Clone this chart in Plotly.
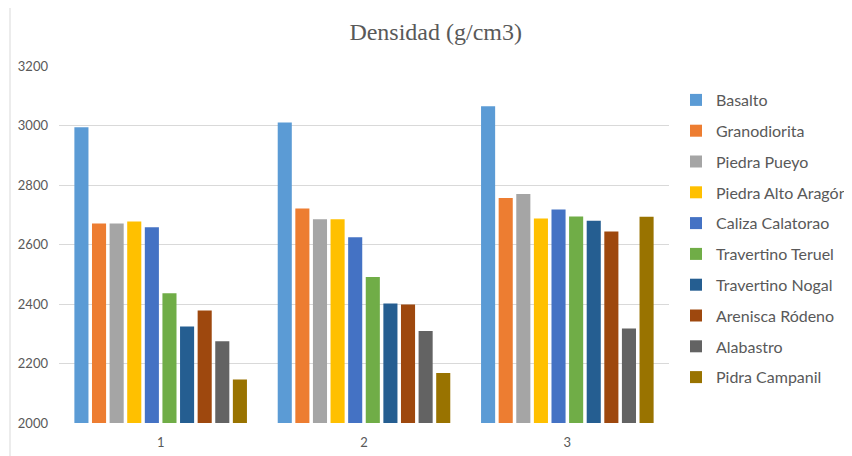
import plotly.graph_objects as go

categories = ["1", "2", "3"]
series_names = ["Basalto", "Granodiorita", "Piedra Pueyo", "Piedra Alto Aragón",
                "Caliza Calatorao", "Travertino Teruel", "Travertino Nogal",
                "Arenisca Ródeno", "Alabastro", "Pidra Campanil"]
basalto = [2994, 3010, 3065]
granodiorita = [2671, 2721, 2756]
piedra_pueyo = [2671, 2685, 2770]
piedra_alto_aragon = [2677, 2685, 2687]
caliza_calatorao = [2658, 2624, 2718]
travertino_teruel = [2436, 2491, 2694]
travertino_nogal = [2324, 2402, 2680]
arenisca_rodeno = [2378, 2398, 2644]
alabastro = [2275, 2309, 2318]
pidra_campanil = [2146, 2168, 2693]
series_values = [basalto, granodiorita, piedra_pueyo, piedra_alto_aragon,
                 caliza_calatorao, travertino_teruel, travertino_nogal,
                 arenisca_rodeno, alabastro, pidra_campanil]
colors = ["#5B9BD5", "#ED7D31", "#A5A5A5", "#FFC000", "#4472C4",
          "#70AD47", "#255E91", "#9E480E", "#636363", "#997300"]
y_ticks = [2000, 2200, 2400, 2600, 2800, 3000, 3200]

# page shows the figure with an 8px offset
OFF = 8
W, H = 844, 448
PL, PR, PT, PB = 59 - OFF, 669 - OFF, 66 - OFF, 423 - OFF
PW, PH = PR - PL, PB - PT


def px(x):
    return (x - OFF - PL) / PW


def py(y):
    return (PB - (y - OFF)) / PH


fig = go.Figure()
for i, (name, vals, col) in enumerate(zip(series_names, series_values, colors)):
    fig.add_trace(go.Bar(x=categories, y=vals, name=name, marker_color=col,
                         marker_line_width=0, legendgroup=f"g{i}"))

fig.update_layout(
    width=W, height=H,
    margin=dict(l=PL, r=W - PR, t=PT, b=H - PB, autoexpand=False),
    paper_bgcolor="white", plot_bgcolor="white",
    barmode="group", bargap=0.134, bargroupgap=0.2,
    title=dict(text="Densidad (g/cm3)", x=(435.7 - OFF) / W, xanchor="center",
               y=1 - (32 - OFF) / H, yanchor="middle",
               font=dict(family="Liberation Serif", size=24, color="#595959")),
    font=dict(family="Lato, Liberation Sans, sans-serif", color="#595959"),
    legend=dict(x=px(676), xanchor="left", y=py(83), yanchor="top",
                font=dict(size=16, color="#595959"), tracegroupgap=7,
                traceorder="grouped", itemwidth=30, bgcolor="rgba(0,0,0,0)"),
    xaxis=dict(type="category", showgrid=False, showline=False, ticks="",
               tickfont=dict(size=13, color="#595959"), ticklabelstandoff=10),
    yaxis=dict(range=[2000, 3200], tickvals=y_ticks, showgrid=True, gridcolor="#d9d9d9",
               gridwidth=1, zeroline=False, showline=False, ticks="",
               tickfont=dict(size=13, color="#595959"), ticklabelstandoff=10),
    shapes=[
        dict(type="line", xref="paper", yref="paper", x0=px(10), x1=px(10),
             y0=py(7), y1=py(470), line=dict(color="#d9d9d9", width=1)),
        dict(type="line", xref="paper", yref="paper", x0=px(10), x1=px(870),
             y0=py(7), y1=py(7), line=dict(color="#d9d9d9", width=1)),
    ],
)

fig.write_html("out.html")
